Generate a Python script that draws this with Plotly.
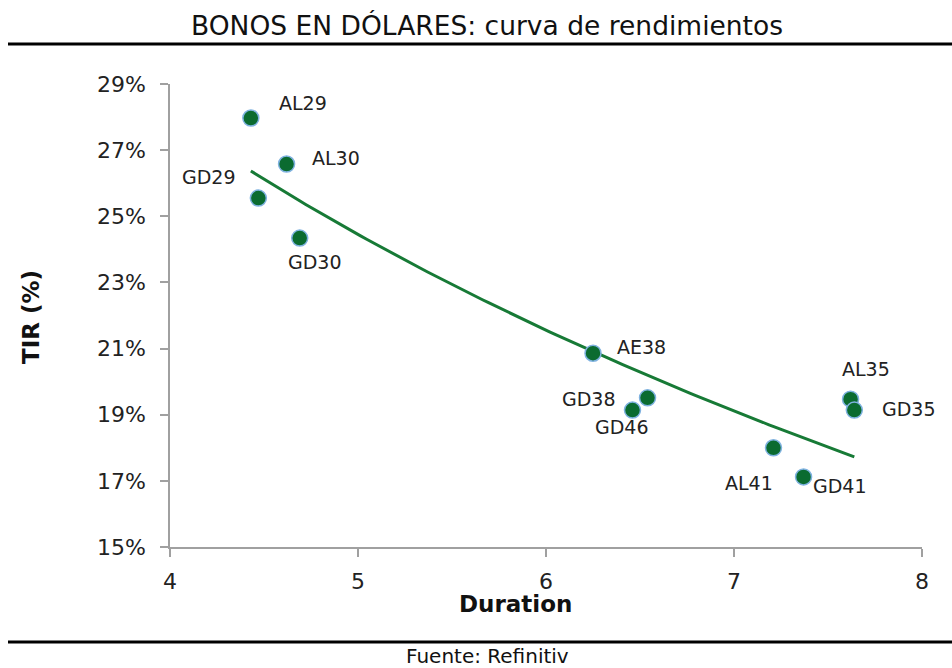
import numpy as np
import plotly.graph_objects as go

bonds = ["AL29", "GD29", "AL30", "GD30", "AE38", "GD38", "GD46", "AL41", "GD41", "AL35", "GD35"]
duration = [4.43, 4.47, 4.62, 4.69, 6.25, 6.54, 6.46, 7.21, 7.37, 7.62, 7.64]
tir = [27.97, 25.55, 26.58, 24.34, 20.86, 19.51, 19.14, 18.00, 17.12, 19.47, 19.14]
y_ticks = [15, 17, 19, 21, 23, 25, 27, 29]
x_ticks = [4, 5, 6, 7, 8]

# label offsets in pixels (style)
offsets = {
    "AL29": (52, -15), "GD29": (-49, -21), "AL30": (49, -6), "GD30": (15, 24),
    "AE38": (48, -6), "GD38": (-59, 1), "GD46": (-10, 17), "AL41": (-24, 35),
    "GD41": (36, 9), "AL35": (15, -30), "GD35": (55, -1),
}

# logarithmic trendline fitted from the data
b, a = np.polyfit(np.log(duration), tir, 1)
xt = np.linspace(min(duration), max(duration), 100)
yt = a + b * np.log(xt)

W, H = 952, 668
L, R, T, B = 170, 30, 84, 121
pw, ph = W - L - R, H - T - B

def px(x):
    return (x - L) / pw

def py(y):
    return (H - B - y) / ph

FONT = "DejaVu Sans"

fig = go.Figure()
fig.add_trace(go.Scatter(x=xt, y=yt, mode="lines",
                         line=dict(color="#177a36", width=3), hoverinfo="skip"))
fig.add_trace(go.Scatter(x=duration, y=tir, mode="markers", text=bonds,
                         marker=dict(size=16, color="#0b6b30",
                                     line=dict(color="#7fb2e0", width=1.5))))

annotations = []
for name, xv, yv in zip(bonds, duration, tir):
    dx, dy = offsets[name]
    annotations.append(dict(x=xv, y=yv, text=name, showarrow=False,
                            xanchor="center", yanchor="middle",
                            xshift=dx, yshift=-dy,
                            font=dict(family=FONT, size=19, color="#222")))

common = dict(xref="paper", yref="paper", showarrow=False, xanchor="center", yanchor="middle")
annotations += [
    dict(x=px(487), y=py(26), text="BONOS EN DÓLARES: curva de rendimientos",
         font=dict(family=FONT, size=26.5, color="#111"), **common),
    dict(x=px(487), y=py(656), text="Fuente: Refinitiv",
         font=dict(family=FONT, size=20, color="#111"), **common),
    dict(x=px(515), y=py(604), text="<b>Duration</b>",
         font=dict(family=FONT, size=23, color="#111"), **common),
    dict(x=px(31), y=py(317), text="<b>TIR (%)</b>", textangle=-90,
         font=dict(family=FONT, size=23, color="#111"), **common),
]

shapes = [
    dict(type="line", xref="paper", yref="paper", x0=px(8), x1=px(952), y0=py(44), y1=py(44),
         line=dict(color="#000", width=3)),
    dict(type="line", xref="paper", yref="paper", x0=px(8), x1=px(952), y0=py(642), y1=py(642),
         line=dict(color="#000", width=3)),
]

fig.update_layout(
    width=W, height=H, margin=dict(l=L, r=R, t=T, b=B),
    paper_bgcolor="white", plot_bgcolor="white", showlegend=False,
    annotations=annotations, shapes=shapes,
    xaxis=dict(range=[4, 8], tickvals=x_ticks, showgrid=False, zeroline=False,
               showline=True, linecolor="#a0a0a0", linewidth=1.5,
               ticks="outside", ticklen=8, tickcolor="#a0a0a0", tickwidth=1.5,
               ticklabelstandoff=6,
               tickfont=dict(family=FONT, size=22, color="#222")),
    yaxis=dict(range=[15, 29], tickvals=y_ticks, ticktext=[f"{v}%" for v in y_ticks],
               showgrid=False, zeroline=False,
               showline=True, linecolor="#a0a0a0", linewidth=1.5,
               ticks="outside", ticklen=8, tickcolor="#a0a0a0", tickwidth=1.5,
               ticklabelstandoff=10,
               tickfont=dict(family=FONT, size=22, color="#222")),
)

fig.write_html("out.html", config={"displayModeBar": False},
               post_script="document.body.style.margin='0';document.body.style.overflow='hidden';")
